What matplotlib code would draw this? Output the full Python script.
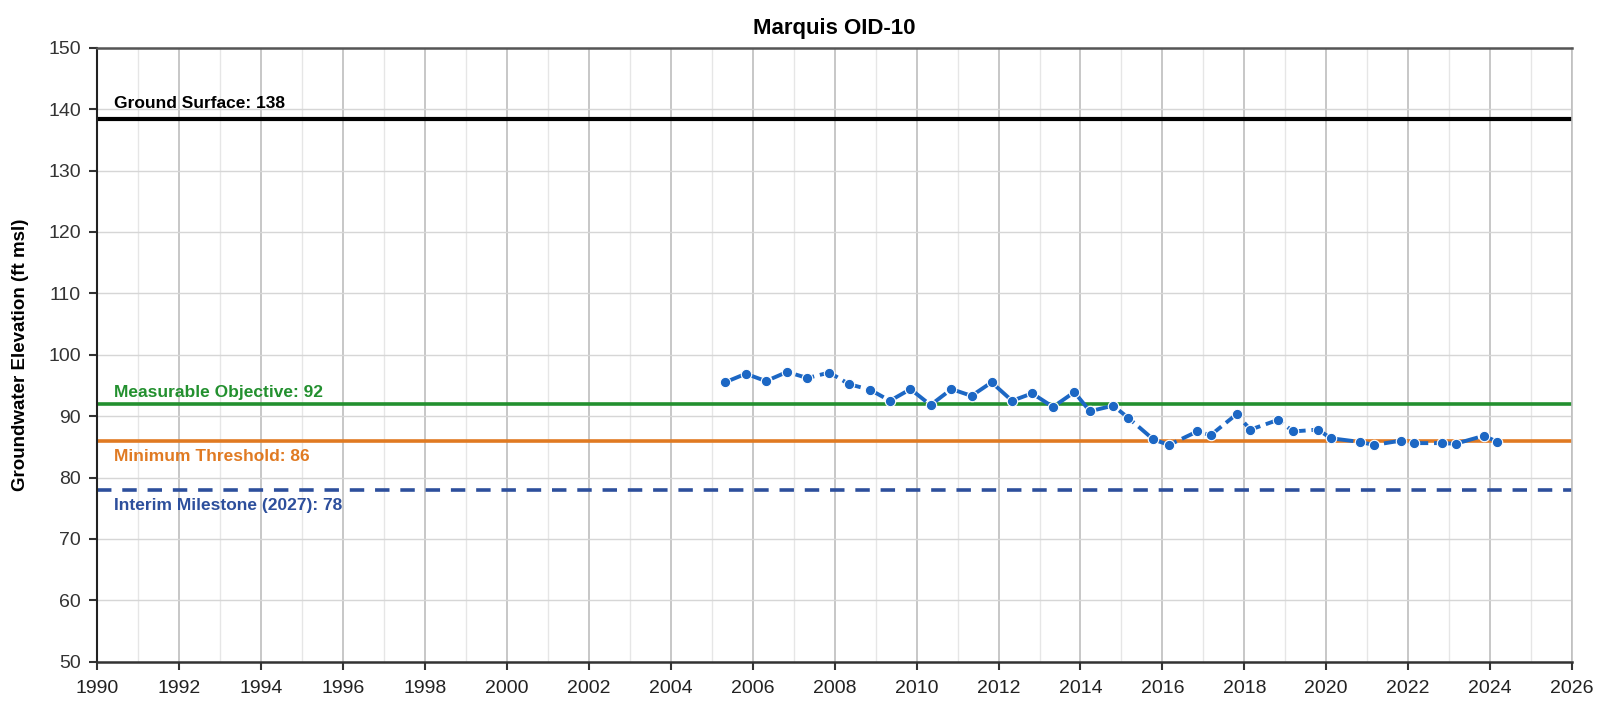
import matplotlib
matplotlib.use("Agg")
import matplotlib.pyplot as plt
from matplotlib.ticker import MultipleLocator

plt.rcParams['font.family'] = ['Liberation Sans', 'DejaVu Sans']

# Observed groundwater elevations (decimal year, ft msl)
years = [2005.32, 2005.83, 2006.32, 2006.84, 2007.33, 2007.87, 2008.35, 2008.86,
         2009.35, 2009.85, 2010.34, 2010.85, 2011.34, 2011.83, 2012.33, 2012.82,
         2013.33, 2013.85, 2014.23, 2014.80, 2015.17, 2015.78, 2016.16, 2016.85,
         2017.18, 2017.81, 2018.15, 2018.83, 2019.19, 2019.80, 2020.11, 2020.82,
         2021.17, 2021.82, 2022.15, 2022.83, 2023.16, 2023.85, 2024.18]
elev = [95.5, 96.9, 95.7, 97.2, 96.2, 97.1, 95.2, 94.3,
        92.5, 94.4, 91.8, 94.4, 93.3, 95.5, 92.5, 93.7,
        91.5, 93.9, 90.8, 91.7, 89.7, 86.2, 85.3, 87.5,
        86.9, 90.3, 87.8, 89.4, 87.5, 87.8, 86.4, 85.8,
        85.3, 86.0, 85.6, 85.6, 85.5, 86.8, 85.8]

ref_names = ["Ground Surface: 138", "Measurable Objective: 92",
             "Minimum Threshold: 86", "Interim Milestone (2027): 78"]
ref_values = [138.4, 92, 86, 78]
ref_colors = ["#000000", "#23902f", "#e07a22", "#2d4f9c"]
ref_styles = ["-", "-", "-", (0, (4, 3))]
label_offsets = [2.5, 1.8, -2.6, -2.6]

fig = plt.figure(figsize=(15.98, 7.09), dpi=100)
ax = fig.add_axes([0.061, 0.0667, 0.9227, 0.866])

ax.set_xlim(1990, 2026)
ax.set_ylim(50, 150)
ax.xaxis.set_major_locator(MultipleLocator(2))
ax.xaxis.set_minor_locator(MultipleLocator(1))
ax.yaxis.set_major_locator(MultipleLocator(10))

ax.grid(which='major', axis='x', color='#bdbdbd', lw=1.2, zorder=0)
ax.grid(which='minor', axis='x', color='#e6e6e6', lw=1.0, zorder=0)
ax.grid(which='major', axis='y', color='#d6d6d6', lw=1.0, zorder=0)
ax.set_axisbelow(True)

for v, c, s, name, off in zip(ref_values, ref_colors, ref_styles, ref_names, label_offsets):
    ax.axhline(v, color=c, lw=3 if c == "#000000" else 2.6, linestyle=s, zorder=2)
    ax.text(1990.4, v + off, name, color=c, fontsize=12.5, fontweight='bold',
            va='center', ha='left', zorder=3)

ax.plot(years, elev, color='#1c67c4', lw=2.8, linestyle=(0, (5, 1.5)),
        marker='o', markersize=7.5, markerfacecolor='#1c67c4',
        markeredgecolor='white', markeredgewidth=0.8, zorder=4)

ax.set_title("Marquis OID-10", fontsize=16, fontweight='bold', pad=10)
ax.set_ylabel("Groundwater Elevation (ft msl)", fontsize=13.5, fontweight='bold', labelpad=14)

ax.tick_params(axis='both', which='major', labelsize=14, length=6, width=1.5,
               direction='out', colors='#333333')
ax.tick_params(axis='x', which='minor', length=0)
ax.tick_params(axis='x', labelcolor='#222222', pad=7)
ax.tick_params(axis='y', labelcolor='#333333', pad=6)

ax.spines['left'].set_color('#222222')
ax.spines['left'].set_linewidth(1.5)
ax.spines['bottom'].set_color('#333333')
ax.spines['bottom'].set_linewidth(1.8)
ax.spines['top'].set_color('#555555')
ax.spines['top'].set_linewidth(1.8)
ax.spines['right'].set_color('#c0c0c0')
ax.spines['right'].set_linewidth(1.2)

fig.savefig("out.png", dpi=100)
